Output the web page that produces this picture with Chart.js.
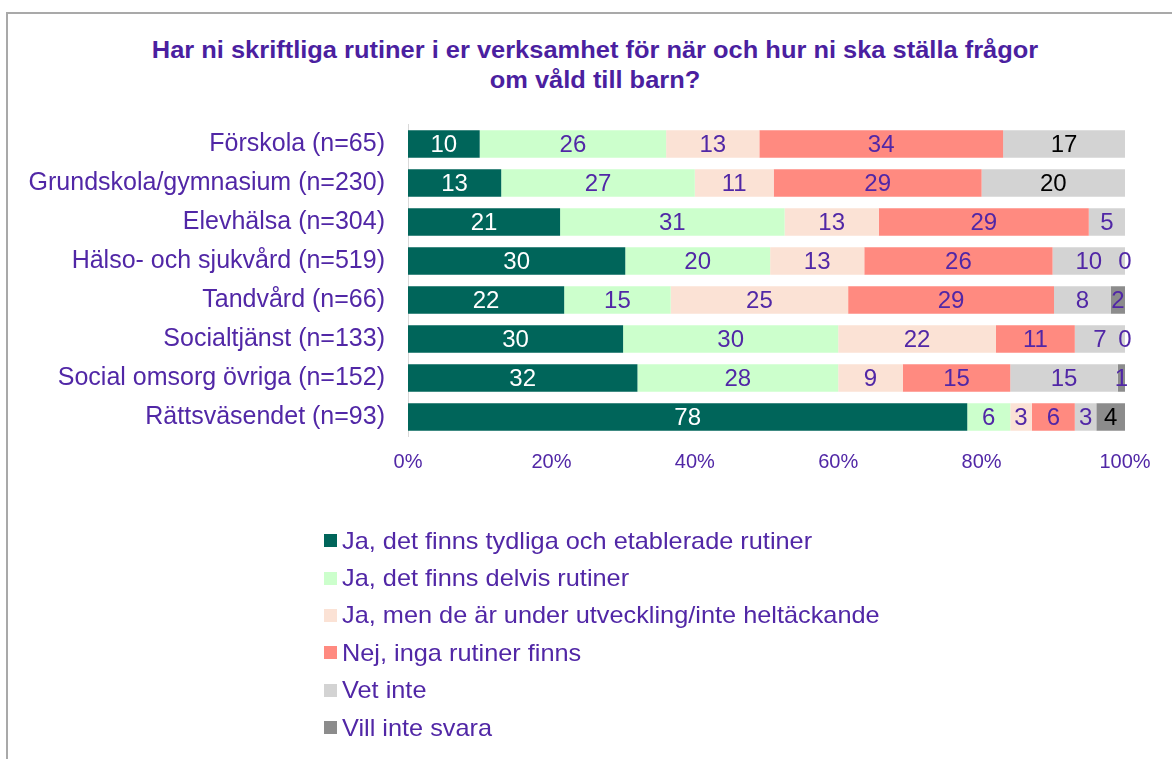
<!DOCTYPE html>
<html lang="sv">
<head>
<meta charset="utf-8">
<title>Skriftliga rutiner – våld mot barn</title>
<script src="https://cdn.jsdelivr.net/npm/chart.js@4"></script>
<style>
  body { margin: 0; background: #fff; font-family: "Liberation Sans", Arial, sans-serif; }
  #wrap { position: relative; width: 1172px; height: 760px; overflow: hidden; }
  #frame { position: absolute; left: 6px; top: 12px; width: 1200px; height: 745px;
           border-left: 2px solid #a9a9a9; border-top: 2px solid #a9a9a9; }
  #title { position: absolute; left: 0; top: 35px; width: 1190px; text-align: center;
           font-weight: bold; font-size: 24px; line-height: 30px; color: #4b1fa0;
           transform: scaleX(1.06); transform-origin: 595px 0; }
  canvas { position: absolute; left: 0; top: 0; }
  #legend { position: absolute; left: 324px; top: 522px; }
  .leg-item { display: flex; align-items: center; height: 37.4px; font-size: 24px; color: #5127a6; white-space: nowrap; }
  .leg-box { width: 13px; height: 13px; margin-right: 5px; flex: none; }
  .leg-text { display: inline-block; transform: scaleX(1.055); transform-origin: 0 50%; }
</style>
</head>
<body>
<div id="wrap">
  <div id="frame"></div>
  <div id="title">Har ni skriftliga rutiner i er verksamhet för när och hur ni ska ställa frågor<br>om våld till barn?</div>
  <canvas id="rutinerChart" width="1172" height="760"></canvas>
  <div id="legend"></div>
</div>
<script>
// === 1. Données (en %) ===
const categories = [
  'Förskola (n=65)',
  'Grundskola/gymnasium (n=230)',
  'Elevhälsa (n=304)',
  'Hälso- och sjukvård (n=519)',
  'Tandvård (n=66)',
  'Socialtjänst (n=133)',
  'Social omsorg övriga (n=152)',
  'Rättsväsendet (n=93)'
];
const seriesNames = [
  'Ja, det finns tydliga och etablerade rutiner',
  'Ja, det finns delvis rutiner',
  'Ja, men de är under utveckling/inte heltäckande',
  'Nej, inga rutiner finns',
  'Vet inte',
  'Vill inte svara'
];
const tydliga    = [10, 13, 21, 30, 22, 30, 32, 78];
const delvis     = [26, 27, 31, 20, 15, 30, 28, 6];
const utveckling = [13, 11, 13, 13, 25, 22, 9, 3];
const nej        = [34, 29, 29, 26, 29, 11, 15, 6];
const vetInte    = [17, 20, 5, 10, 8, 7, 15, 3];
const villInte   = [null, null, null, 0, 2, 0, 1, 4];
const tickValues = [0, 20, 40, 60, 80, 100];

const series = [tydliga, delvis, utveckling, nej, vetInte, villInte];
const colors = ['#00655a', '#ccffcc', '#fbe2d5', '#ff8a80', '#d3d3d3', '#8c8c8c'];
const purple = '#5127a6';

// 100% empilé : chaque ligne est ramenée à sa somme
const rowTotals = categories.map((c, i) => series.reduce((s, arr) => s + (arr[i] || 0), 0));

// === 2. Étiquettes de données ===
const blackLabels = { '4-0': true, '4-1': true, '5-7': true };
const barLabels = {
  id: 'barLabels',
  afterDatasetsDraw(chart) {
    const ctx = chart.ctx;
    ctx.save();
    ctx.font = '24px "Liberation Sans", Arial, sans-serif';
    ctx.textAlign = 'center';
    ctx.textBaseline = 'middle';
    chart.data.datasets.forEach((ds, di) => {
      const meta = chart.getDatasetMeta(di);
      meta.data.forEach((bar, i) => {
        const v = ds.raw[i];
        if (v === null || v === undefined) return;
        const p = bar.getCenterPoint();
        ctx.fillStyle = di === 0 ? '#ffffff' : (blackLabels[di + '-' + i] ? '#000000' : purple);
        ctx.fillText(String(v), p.x, p.y + 1);
      });
    });
    ctx.restore();
  }
};

// === 3. Graphique ===
Chart.defaults.font.family = '"Liberation Sans", Arial, sans-serif';

const chart = new Chart(document.getElementById('rutinerChart'), {
  type: 'bar',
  data: {
    labels: categories,
    datasets: series.map((arr, k) => ({
      label: seriesNames[k],
      raw: arr,
      data: arr.map((v, i) => v === null ? null : v / rowTotals[i] * 100),
      backgroundColor: colors[k],
      borderWidth: 0,
      barPercentage: 0.7,
      categoryPercentage: 1
    }))
  },
  options: {
    indexAxis: 'y',
    responsive: false,
    animation: false,
    devicePixelRatio: 1,
    layout: { padding: { left: 0, right: 47, top: 124.5, bottom: 283.5 } },
    plugins: {
      legend: { display: false },
      tooltip: { enabled: false }
    },
    scales: {
      x: {
        stacked: true,
        min: 0,
        max: 100,
        afterBuildTicks: s => { s.ticks = tickValues.map(v => ({ value: v })); },
        afterFit: s => { s.height = 40; },
        grid: { display: false, drawTicks: false },
        border: { display: false },
        ticks: { color: purple, font: { size: 20 }, padding: 14, callback: v => v + '%' }
      },
      y: {
        stacked: true,
        afterFit: s => { s.width = 408; },
        grid: { display: false, drawTicks: false },
        border: { display: true, color: '#d9d9d9', width: 1 },
        ticks: { color: purple, font: { size: 25 }, padding: 23 }
      }
    }
  },
  plugins: [barLabels]
});

// === 4. Légende (verticale) ===
const legendDiv = document.getElementById('legend');
chart.data.datasets.forEach(ds => {
  const row = document.createElement('div');
  row.className = 'leg-item';
  row.innerHTML = '<span class="leg-box" style="background:' + ds.backgroundColor + '"></span>' +
    '<span class="leg-text">' + ds.label + '</span>';
  legendDiv.appendChild(row);
});
</script>
</body>
</html>
